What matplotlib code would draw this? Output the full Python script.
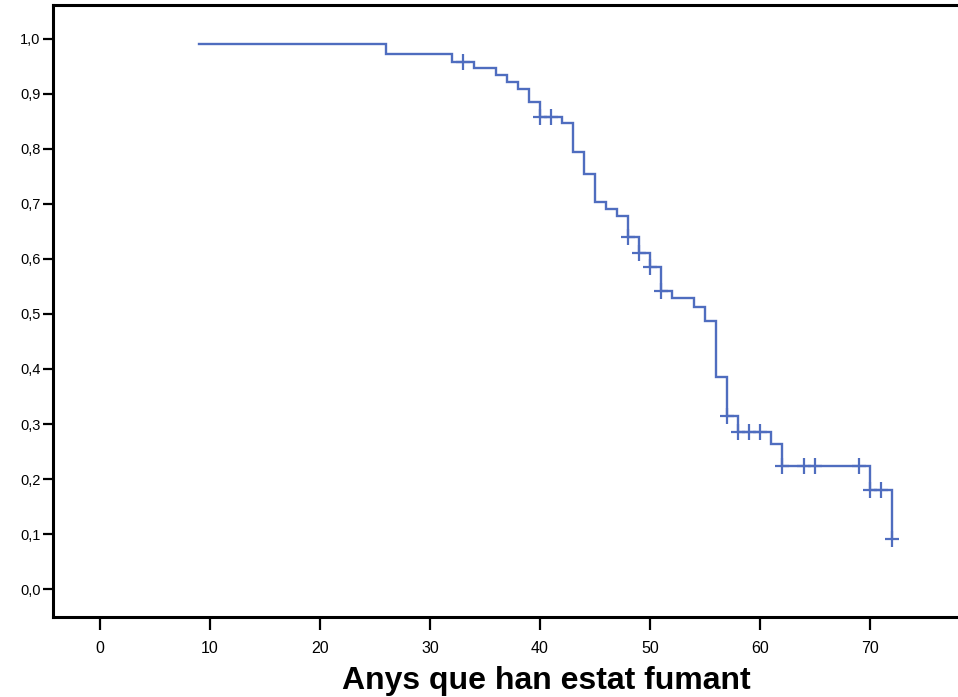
import numpy as np
import matplotlib
matplotlib.use("Agg")
import matplotlib.pyplot as plt

# Kaplan-Meier survival estimate: event times and survival after each step
event_times = [9, 26, 32, 34, 36, 37, 38, 39, 40, 42, 43, 44, 45, 46, 47, 48,
               49, 50, 51, 52, 54, 55, 56, 57, 58, 61, 62, 70, 72]
survival = [0.991, 0.973, 0.958, 0.947, 0.935, 0.922, 0.909, 0.885, 0.858,
            0.848, 0.795, 0.755, 0.704, 0.691, 0.678, 0.640, 0.611, 0.585,
            0.542, 0.529, 0.513, 0.487, 0.386, 0.315, 0.285, 0.264, 0.224,
            0.180, 0.091]
# Censored observations (years)
censored_times = [33, 40, 41, 48, 49, 50, 51, 57, 58, 59, 60, 62, 64, 65,
                  69, 70, 71, 72]

x_ticks = [0, 10, 20, 30, 40, 50, 60, 70]
y_ticks = [0.0, 0.1, 0.2, 0.3, 0.4, 0.5, 0.6, 0.7, 0.8, 0.9, 1.0]
x_label = "Anys que han estat fumant"

line_color = "#4f6dbf"

W, H = 958, 697
fig = plt.figure(figsize=(W / 100, H / 100), dpi=100)
# the plot frame runs past the right edge of the canvas
ax = fig.add_axes([53 / W, 1 - 617 / H, (1039 - 53) / W, (617 - 5) / H])

ax.step(event_times, survival, where="post", color=line_color, lw=1.7,
        solid_joinstyle="miter")

# survival level at each censored time
t_arr = np.array(event_times)
s_arr = np.array(survival)
idx = np.searchsorted(t_arr, censored_times, side="right") - 1
cens_s = s_arr[idx]
ax.plot(censored_times, cens_s, ls="none", marker="|", ms=12, mew=1.6,
        color=line_color)
ax.plot(censored_times, cens_s, ls="none", marker="_", ms=10, mew=1.6,
        color=line_color)

ax.set_xlim(-4.27, 85.36)
ax.set_ylim(-0.0509, 1.0618)

ax.spines["right"].set_visible(False)
for s in ["left", "top", "bottom"]:
    ax.spines[s].set_linewidth(2.2)

ax.set_xticks(x_ticks)
ax.set_xticklabels([str(v) for v in x_ticks], family="Liberation Sans",
                   fontsize=11.5)
ax.set_yticks(y_ticks)
ax.set_yticklabels([f"{v:.1f}".replace(".", ",") for v in y_ticks],
                   family="Liberation Sans", fontsize=10.5)
ax.tick_params(axis="y", length=7, width=1.6, pad=2)
ax.tick_params(axis="x", length=9, width=1.6, pad=8)

# axis title, centred on the full frame width
fig.text(546 / W, 1 - 689 / H, x_label, family="Liberation Sans",
         fontsize=23, fontweight="bold", ha="center", va="baseline")

fig.savefig("out.png", dpi=100)
